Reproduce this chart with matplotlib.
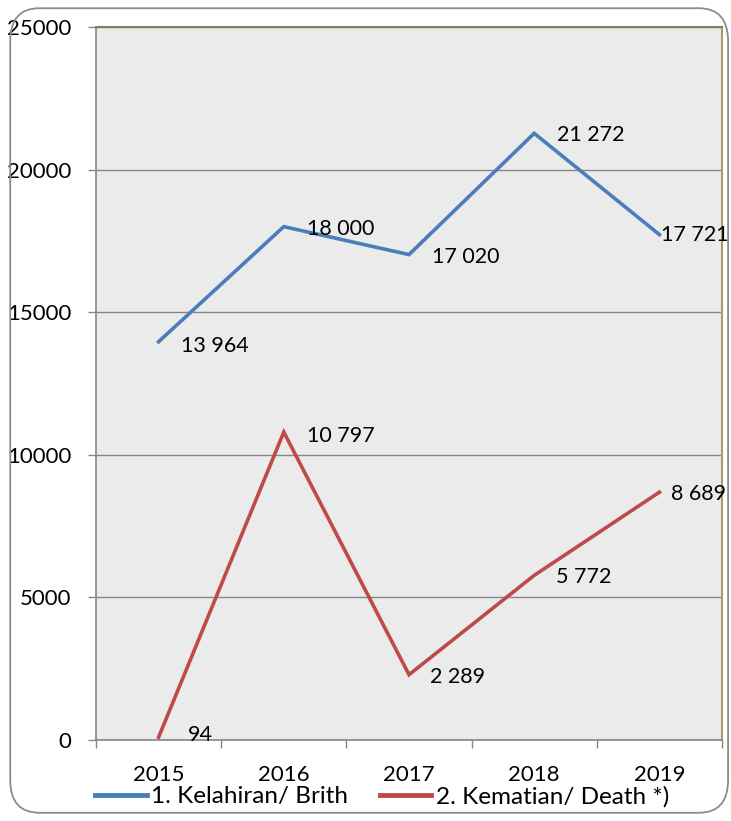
import matplotlib
matplotlib.use('Agg')
import matplotlib.pyplot as plt
from matplotlib.patches import FancyBboxPatch
from matplotlib.ticker import FixedLocator

years = ['2015', '2016', '2017', '2018', '2019']
births = [13964, 18000, 17020, 21272, 17721]
deaths = [94, 10797, 2289, 5772, 8689]
birth_labels = ['13 964', '18 000', '17 020', '21 272', '17 721']
death_labels = ['94', '10 797', '2 289', '5 772', '8 689']
y_ticks = [0, 5000, 10000, 15000, 20000, 25000]

plt.rcParams['font.family'] = ['Lato', 'DejaVu Sans']

BLUE = '#4a7ebb'
RED = '#be4b48'

fig = plt.figure(figsize=(7.31, 8.21), dpi=100)
fig.patch.set_facecolor('white')

# rounded chart border
border = FancyBboxPatch((0.014, 0.010), 0.982, 0.980,
                        boxstyle='round,pad=0,rounding_size=0.04',
                        transform=fig.transFigure, facecolor='none',
                        edgecolor='#8c8c8c', linewidth=1.3, zorder=0)
fig.patches.append(border)

ax = fig.add_axes([0.1313, 0.0987, 0.8564, 0.8684])
ax.set_facecolor('#ebebeb')

x = list(range(len(years)))
ax.plot(x, births, color=BLUE, linewidth=2.6, label='1. Kelahiran/ Brith',
        solid_joinstyle='miter', zorder=3)
ax.plot(x, deaths, color=RED, linewidth=2.6, label='2. Kematian/ Death *)',
        solid_joinstyle='miter', zorder=3)

# data labels (offsets in points)
birth_off = [(16.5, -3), (16.5, -1.5), (16.5, -1.5), (16.5, -1.5), (1, 0)]
death_off = [(21, 1.5), (16.5, -3), (15, -2), (16, -1.5), (8.5, -1.5)]
for i in x:
    ax.annotate(birth_labels[i], (i, births[i]), xytext=birth_off[i],
                textcoords='offset points', ha='left', va='center',
                fontsize=15.5, color='black', zorder=4)
    ax.annotate(death_labels[i], (i, deaths[i]), xytext=death_off[i],
                textcoords='offset points', ha='left', va='center',
                fontsize=15.5, color='black', zorder=4)

ax.set_xlim(-0.5, len(years) - 0.5)
ax.set_ylim(0, 25000)
ax.set_yticks(y_ticks)
ax.set_yticklabels([str(v) for v in y_ticks])
ax.yaxis.grid(True, color='#868686', linewidth=1.0, zorder=1)
ax.set_axisbelow(True)

ax.set_xticks(x)
ax.set_xticklabels(years)
ax.xaxis.set_minor_locator(FixedLocator([i - 0.5 for i in range(len(years) + 1)]))
ax.tick_params(axis='x', which='major', length=0, pad=18, labelsize=16)
ax.tick_params(axis='x', which='minor', length=6, color='#868686', width=1)
ax.tick_params(axis='y', length=6, color='#868686', width=1, pad=11.5, labelsize=16)

for side in ['left', 'bottom']:
    ax.spines[side].set_color('#868686')
    ax.spines[side].set_linewidth(1.2)
ax.spines['top'].set_color('#8b7d5b')
ax.spines['top'].set_linewidth(1.5)
ax.spines['right'].set_color('#a89c70')
ax.spines['right'].set_linewidth(1.5)

leg = fig.legend(loc='center', bbox_to_anchor=(0.523, 0.030), ncol=2, frameon=False,
                 fontsize=17.5, handlelength=2.1, handletextpad=0.2, columnspacing=1.3,
                 borderaxespad=0)
for line in leg.get_lines():
    line.set_linewidth(3.5)

fig.savefig('out.png', dpi=100)
